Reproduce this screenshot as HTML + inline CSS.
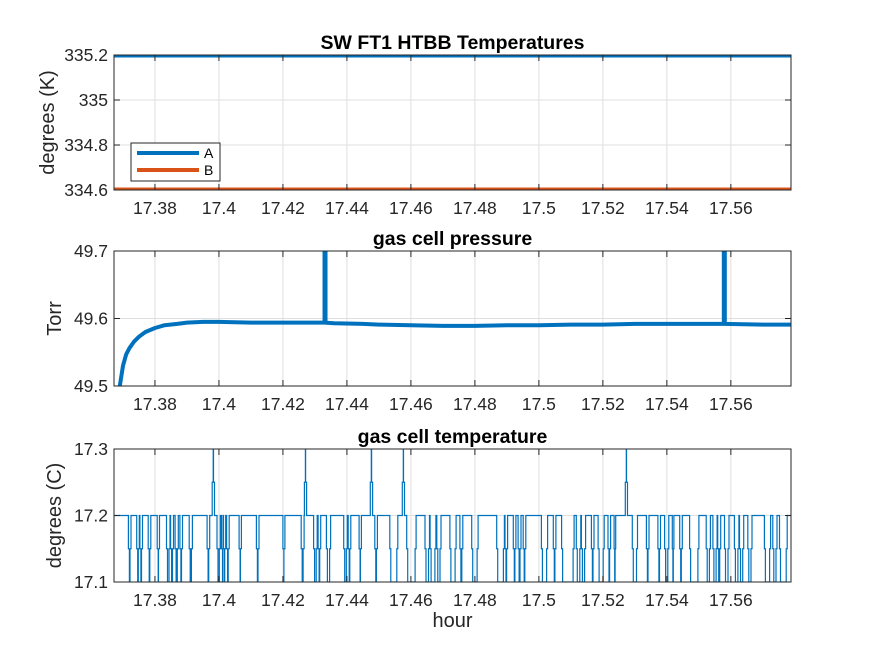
<!DOCTYPE html>
<html><head><meta charset="utf-8"><style>
body{margin:0;background:#fff;width:875px;height:656px;overflow:hidden}
svg{display:block;font-family:"Liberation Sans",sans-serif}
</style></head><body>
<svg id="fig" width="875" height="656"></svg>
<script>
// ---------- data ----------
const xTicks=[17.38,17.40,17.42,17.44,17.46,17.48,17.50,17.52,17.54,17.56];
const xTickLabels=["17.38","17.4","17.42","17.44","17.46","17.48","17.5","17.52","17.54","17.56"];
const xDomain=[17.3672,17.5788];
// plot 1
const tempTicks=[334.6,334.8,335.0,335.2];
const tempTickLabels=["334.6","334.8","335","335.2"];
const seriesA=[335.2,335.2];
const seriesB=[334.6,334.6];
// plot 2
const pressTicks=[49.5,49.6,49.7];
const pressTickLabels=["49.5","49.6","49.7"];
const pressTimes=[17.3690,17.3700,17.3710,17.3720,17.3735,17.3750,17.3770,17.3800,17.3830,17.3870,17.3900,17.3950,17.4000,17.4100,17.4200,17.4300,17.4330,17.4360,17.4450,17.4500,17.4600,17.4700,17.4800,17.4900,17.5000,17.5100,17.5200,17.5300,17.5400,17.5500,17.5580,17.5700,17.5788];
const pressVals=[49.500,49.530,49.547,49.556,49.566,49.573,49.580,49.586,49.590,49.592,49.594,49.595,49.595,49.594,49.594,49.594,49.594,49.593,49.592,49.591,49.590,49.589,49.589,49.590,49.590,49.591,49.591,49.592,49.592,49.592,49.592,49.591,49.591];
const pressSpikeTimes=[17.4330,17.5578];
// plot 3
const gtTicks=[17.1,17.2,17.3];
const gtTickLabels=["17.1","17.2","17.3"];
const gtBase=17.2, gtLow=17.1, gtHigh=17.3;
const gtDipStart=[17.3717,17.3743,17.3753,17.3779,17.3807,17.3836,17.3849,17.3863,17.3878,17.3907,17.3963,17.3994,17.4008,17.4013,17.4024,17.4063,17.4117,17.4200,17.4257,17.4296,17.4310,17.4336,17.4390,17.4404,17.4438,17.4487,17.4534,17.4587,17.4644,17.4660,17.4681,17.4722,17.4753,17.4790,17.4868,17.4894,17.4920,17.4935,17.4951,17.5008,17.5045,17.5071,17.5117,17.5133,17.5164,17.5185,17.5216,17.5235,17.5292,17.5336,17.5372,17.5393,17.5417,17.5440,17.5471,17.5523,17.5544,17.5559,17.5580,17.5611,17.5627,17.5653,17.5705,17.5731,17.5752];
const gtDipEnd=[17.3722,17.3748,17.3758,17.3784,17.3811,17.3844,17.3855,17.3870,17.3883,17.3914,17.3968,17.4001,17.4011,17.4018,17.4029,17.4067,17.4122,17.4203,17.4263,17.4304,17.4315,17.4346,17.4398,17.4409,17.4442,17.4492,17.4556,17.4613,17.4655,17.4675,17.4691,17.4738,17.4759,17.4807,17.4889,17.4899,17.4925,17.4941,17.4956,17.5024,17.5050,17.5107,17.5128,17.5143,17.5169,17.5201,17.5221,17.5237,17.5305,17.5341,17.5377,17.5403,17.5419,17.5445,17.5497,17.5533,17.5554,17.5565,17.5591,17.5622,17.5637,17.5663,17.5721,17.5741,17.5773];
const gtSpikes=[17.3981,17.4269,17.4475,17.4575,17.5272];

// ---------- drawing ----------
const NS="http://www.w3.org/2000/svg";
const svg=document.getElementById('fig');
const L=114,R=791;
function X(t){return L+(t-xDomain[0])/(xDomain[1]-xDomain[0])*(R-L);}
function mk(tag,attrs,parent){const e=document.createElementNS(NS,tag);for(const k in attrs)e.setAttribute(k,attrs[k]);(parent||svg).appendChild(e);return e;}
function txt(s,attrs,parent){const e=mk('text',attrs,parent);e.textContent=s;return e;}

const clipDefs=mk('defs',{});
function axes(id,top,bot,dom,ticks,labels,title,ylabel,yOff){
  const Y=v=>bot-(v-dom[0])/(dom[1]-dom[0])*(bot-top);
  const g=mk('g',{});
  
  
  mk('rect',{x:L,y:top,width:R-L,height:bot-top,fill:'#fff'},g);
  const cp=mk('clipPath',{id:id+'-clip'},clipDefs);
  mk('rect',{x:L,y:top,width:R-L,height:bot-top},cp);
  const grid=mk('g',{stroke:'#dfdfdf','stroke-width':1},g);
  
  
  xTicks.forEach(t=>mk('line',{x1:X(t),x2:X(t),y1:top,y2:bot},grid));
  ticks.forEach(v=>mk('line',{x1:L,x2:R,y1:Y(v),y2:Y(v)},grid));
  const data=mk('g',{'clip-path':'url(#'+id+'-clip)'},g);
  const frame=mk('g',{},g);
  mk('rect',{x:L,y:top,width:R-L,height:bot-top,fill:'none',stroke:'#262626','stroke-width':1},frame);
  xTicks.forEach((t,i)=>{
    mk('line',{x1:X(t),x2:X(t),y1:bot,y2:bot-6,stroke:'#262626'},frame);
    mk('line',{x1:X(t),x2:X(t),y1:top,y2:top+6,stroke:'#262626'},frame);
    const l=txt(xTickLabels[i],{x:X(t),y:bot+24,'text-anchor':'middle','font-size':17.5,fill:'#262626'},g);
    
    
  });
  ticks.forEach((v,i)=>{
    mk('line',{x1:L,x2:L+6,y1:Y(v),y2:Y(v),stroke:'#262626'},frame);
    mk('line',{x1:R,x2:R-6,y1:Y(v),y2:Y(v),stroke:'#262626'},frame);
    const l=txt(labels[i],{x:L-6,y:Y(v)+6,'text-anchor':'end','font-size':17.5,fill:'#262626'},g);
    
    
  });
  const tt=txt(title,{x:(L+R)/2,y:top-6,'text-anchor':'middle','font-size':19.5,'font-weight':'bold',fill:'#000'},g);
  
  
  const yl=txt(ylabel,{x:0,y:0,'text-anchor':'middle','font-size':20,fill:'#262626',transform:`translate(${L-yOff},${(top+bot)/2}) rotate(-90)`},g);
  
  
  return {Y,data,g};
}

// plot 1
const a1=axes('temperature-axes',55,190,[334.6,335.2],tempTicks,tempTickLabels,'SW FT1 HTBB Temperatures','degrees (K)',60);
const lA=mk('line',{x1:X(xDomain[0]),x2:X(xDomain[1]),y1:a1.Y(seriesA[0]),y2:a1.Y(seriesA[1]),stroke:'#0072BD','stroke-width':5},a1.data);


const lB=mk('line',{x1:X(xDomain[0]),x2:X(xDomain[1]),y1:a1.Y(seriesB[0]),y2:a1.Y(seriesB[1]),stroke:'#D95319','stroke-width':5},a1.data);


const leg=mk('g',{},a1.g);


mk('rect',{x:131,y:143,width:89,height:38,fill:'#fff',stroke:'#262626','stroke-width':1},leg);
const e1=mk('g',{},leg);


mk('line',{x1:137,x2:199,y1:153,y2:153,stroke:'#0072BD','stroke-width':4},e1);
txt('A',{x:204,y:158,'font-size':14,fill:'#000'},e1);
const e2=mk('g',{},leg);


mk('line',{x1:137,x2:199,y1:170,y2:170,stroke:'#D95319','stroke-width':4},e2);
txt('B',{x:204,y:175,'font-size':14,fill:'#000'},e2);

// plot 2
const a2=axes('pressure-axes',251,386,[49.5,49.7],pressTicks,pressTickLabels,'gas cell pressure','Torr',53);
let pd=pressTimes.map((t,i)=>(i?'L':'M')+X(t).toFixed(1)+','+a2.Y(pressVals[i]).toFixed(1)).join('');
const pl=mk('path',{d:pd,fill:'none',stroke:'#0072BD','stroke-width':4,'stroke-linejoin':'round'},a2.data);


pressSpikeTimes.forEach(t=>{
  const s=mk('rect',{x:X(t)-2,y:a2.Y(49.75),width:5,height:a2.Y(49.594)-a2.Y(49.75),fill:'#0072BD'},a2.data);
  
  
});

// plot 3
const a3=axes('gas-temp-axes',449,582,[17.1,17.3],gtTicks,gtTickLabels,'gas cell temperature','degrees (C)',53);
const ev=[];
gtDipStart.forEach((s,i)=>ev.push({t:s,e:gtDipEnd[i],v:gtLow}));
gtSpikes.forEach(s=>ev.push({t:s-0.0002,e:s+0.0002,v:gtHigh}));
ev.sort((a,b)=>a.t-b.t);
const yb=a3.Y(gtBase);
let gd='M'+X(xDomain[0])+','+yb;
ev.forEach(o=>{
  const x1=X(o.t),x2=X(o.e),ym=a3.Y((gtBase+o.v)/2),yv=a3.Y(o.v);
  gd+=`L${x1.toFixed(1)},${yb}L${x1.toFixed(1)},${ym}L${(x1+1).toFixed(1)},${ym}L${(x1+1).toFixed(1)},${yv}L${x2.toFixed(1)},${yv}L${x2.toFixed(1)},${ym}L${(x2+1).toFixed(1)},${ym}L${(x2+1).toFixed(1)},${yb}`;
});
gd+='L'+X(xDomain[1])+','+yb;
const gl=mk('path',{d:gd,fill:'none',stroke:'#0072BD','stroke-width':1.2},a3.data);



const xl=txt('hour',{x:(L+R)/2,y:627,'text-anchor':'middle','font-size':20,fill:'#262626'});


</script>
</body></html>
